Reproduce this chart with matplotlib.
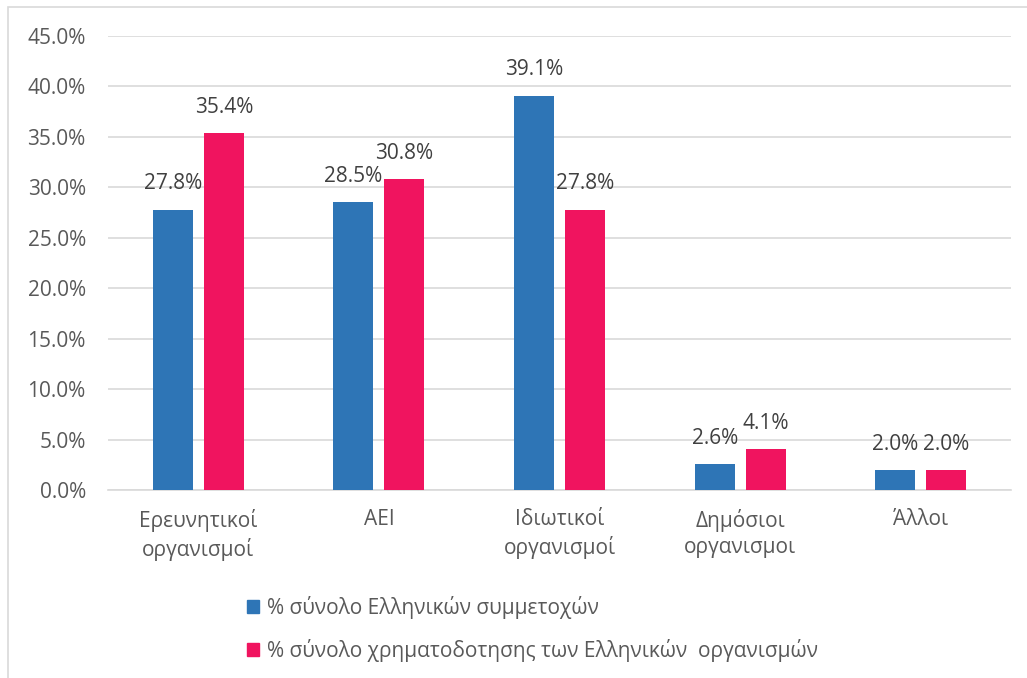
import matplotlib.pyplot as plt
import numpy as np
from matplotlib.patches import Rectangle

categories = ["Ερευνητικοί\nοργανισμοί", "ΑΕΙ", "Ιδιωτικοί\nοργανισμοί", "Δημόσιοι\nοργανισμοι", "Άλλοι"]
participation = [27.8, 28.5, 39.1, 2.6, 2.0]
funding = [35.4, 30.8, 27.8, 4.1, 2.0]
series_names = ["% σύνολο Ελληνικών συμμετοχών",
                "% σύνολο χρηματοδοτησης των Ελληνικών  οργανισμών"]
yticks = [0, 5, 10, 15, 20, 25, 30, 35, 40, 45]

blue = "#2E75B6"
pink = "#F0145F"
txt = "#595959"
plt.rcParams['font.family'] = ['Open Sans', 'DejaVu Sans']

fig = plt.figure(figsize=(10.27, 6.78), dpi=100)
ax = fig.add_axes([108/1027, 1-490/678, (1011-108)/1027, (490-36)/678])

x = np.arange(len(categories))
w = 0.222
gap = 0.03
b1 = ax.bar(x - w/2 - gap, participation, w, color=blue, label=series_names[0], zorder=3)
b2 = ax.bar(x + w/2 + gap, funding, w, color=pink, label=series_names[1], zorder=3)

for rects, vals in ((b1, participation), (b2, funding)):
    for r, v in zip(rects, vals):
        ax.text(r.get_x() + r.get_width()/2, v + 1.5, f"{v:.1f}%", ha='center', va='bottom',
                fontsize=15, color="#404040", zorder=4)

ax.set_xlim(-0.5, len(categories) - 0.5)
ax.set_ylim(0, 45)
ax.set_yticks(yticks)
ax.set_yticklabels([f"{t:.1f}%" for t in yticks], fontsize=15, color=txt)
ax.set_xticks(x)
ax.set_xticklabels(categories, fontsize=15, color=txt, linespacing=1.3)
ax.tick_params(axis='y', length=0, pad=16)
ax.tick_params(axis='x', length=0, pad=14)
ax.yaxis.grid(True, color="#D9D9D9", linewidth=1.2, zorder=0)
for s in ['top', 'right', 'left']:
    ax.spines[s].set_visible(False)
ax.spines['bottom'].set_color("#D9D9D9")
ax.spines['bottom'].set_linewidth(1.2)

# outer chart border
fig.patches.append(Rectangle((8/1027, -0.1), 1.2, 1 - 7/678 + 0.1, transform=fig.transFigure,
                             fill=False, edgecolor="#D9D9D9", linewidth=1.2))

handles = [Rectangle((0, 0), 1, 1, color=blue), Rectangle((0, 0), 1, 1, color=pink)]
fig.legend(handles, series_names, loc='upper left', bbox_to_anchor=(228/1027, 1-577/678),
           frameon=False, fontsize=15, labelcolor=txt, handlelength=0.6, handleheight=0.6,
           handletextpad=0.35, labelspacing=0.95)

fig.savefig("out.png", dpi=100)
